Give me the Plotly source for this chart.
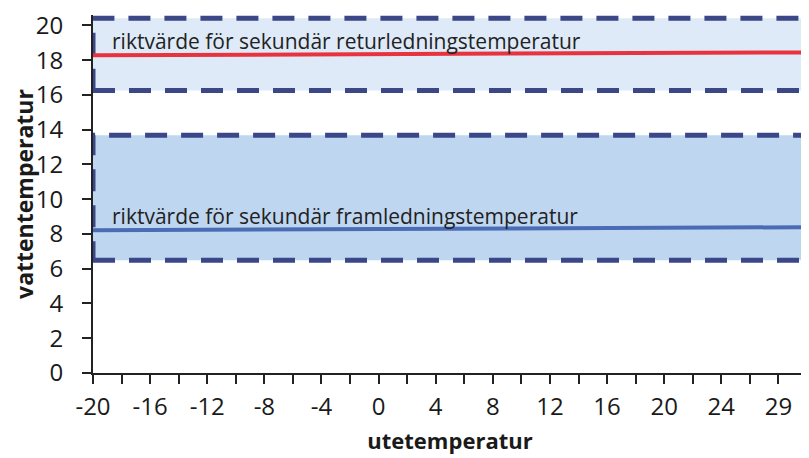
import plotly.graph_objects as go

# data
x_vals = [-20, 30]
retur = [18.28, 18.45]
fram = [8.22, 8.39]
x_tickvals = [-20, -16, -12, -8, -4, 0, 4, 8, 12, 16, 20, 24, 28]
x_ticklabels = ["-20", "-16", "-12", "-8", "-4", "0", "4", "8", "12", "16", "20", "24", "29"]
y_ticks = [0, 2, 4, 6, 8, 10, 12, 14, 16, 18, 20]
band_retur = [16.26, 20.42]
band_fram = [6.49, 13.68]
label_retur = "riktvärde för sekundär returledningstemperatur"
label_fram = "riktvärde för sekundär framledningstemperatur"

FONT = "Open Sans"
navy = "#3b4787"

fig = go.Figure()

fig.add_shape(type="rect", xref="x", yref="y", x0=x_vals[0], x1=x_vals[1] - 0.1, y0=band_retur[0], y1=band_retur[1],
              fillcolor="#dfeaf8", line=dict(color=navy, width=5, dash="22px,14px"), layer="below")
fig.add_shape(type="rect", xref="x", yref="y", x0=x_vals[0], x1=x_vals[1] - 0.1, y0=band_fram[0], y1=band_fram[1],
              fillcolor="#bfd6f1", line=dict(color=navy, width=5, dash="22px,14px"), layer="below")
fig.add_shape(type="line", xref="x", yref="y", x0=x_vals[1] - 0.05, x1=x_vals[1] - 0.05, y0=0, y1=band_retur[1],
              line=dict(color="#5aa8e6", width=1.5, dash="4px,3px"))

fig.add_trace(go.Scatter(x=x_vals, y=retur, mode="lines",
                         line=dict(color="#e8333f", width=4), showlegend=False, hoverinfo="skip"))
fig.add_trace(go.Scatter(x=x_vals, y=fram, mode="lines",
                         line=dict(color="#4a6cb5", width=4), showlegend=False, hoverinfo="skip"))

fig.add_annotation(x=-18.8, y=retur[0], xref="x", yref="y", text=label_retur, showarrow=False,
                   xanchor="left", yanchor="bottom", yshift=-2,
                   font=dict(family=FONT, size=21, color="#222222"))
fig.add_annotation(x=-18.8, y=fram[0], xref="x", yref="y", text=label_fram, showarrow=False,
                   xanchor="left", yanchor="bottom", yshift=-2,
                   font=dict(family=FONT, size=21, color="#222222"))

# page body adds an 8px margin, so the figure is sized 801x450
fig.update_layout(
    width=801, height=450,
    margin=dict(l=85, r=2, t=7, b=85),
    plot_bgcolor="white", paper_bgcolor="white",
    font=dict(family=FONT, size=21, color="#1a1a1a"),
    xaxis=dict(range=[x_vals[0], x_vals[1]], tickvals=x_tickvals, ticktext=x_ticklabels,
               ticks="outside", ticklen=9, tickwidth=1.5, tickcolor="#222",
               minor=dict(ticks="outside", dtick=2, tick0=-20, ticklen=9, tickwidth=1.5, tickcolor="#222"),
               showline=True, linecolor="#222", linewidth=2, showgrid=False, zeroline=False,
               automargin=False, ticklabelstandoff=2, ticklabeloverflow="allow",
               tickfont=dict(family=FONT, size=24),
               title=dict(text="<b>utetemperatur</b>", font=dict(family=FONT, size=22), standoff=13)),
    yaxis=dict(range=[0, 20.6], tickvals=y_ticks,
               ticks="outside", ticklen=9, tickwidth=1.5, tickcolor="#222",
               showline=True, linecolor="#222", linewidth=2, showgrid=False, zeroline=False,
               automargin=False, ticklabelstandoff=14, ticklabeloverflow="allow",
               tickfont=dict(family=FONT, size=24),
               title=dict(text="<b>vattentemperatur</b>", font=dict(family=FONT, size=23), standoff=8)),
)

fig.write_html("out.html")
